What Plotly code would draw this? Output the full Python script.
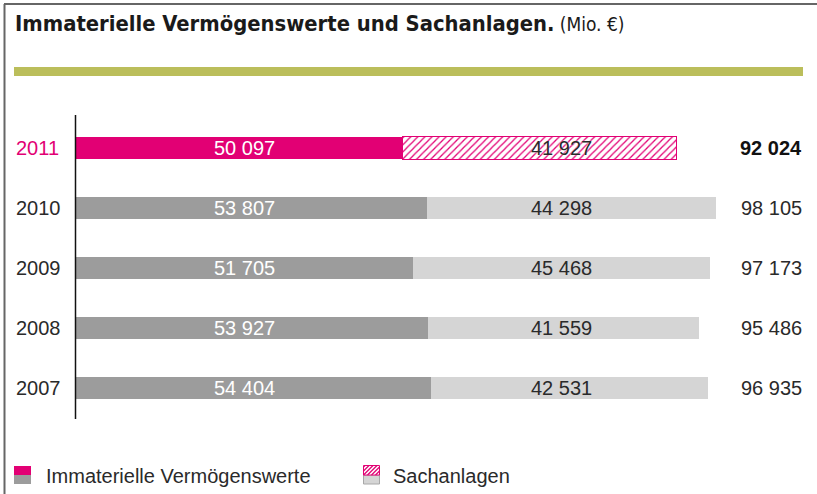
import plotly.graph_objects as go

years = ["2011", "2010", "2009", "2008", "2007"]
immaterielle = [50097, 53807, 51705, 53927, 54404]
sachanlagen = [41927, 44298, 45468, 41559, 42531]
totals = [92024, 98105, 97173, 95486, 96935]

MAG = "#E20074"
DARK = "#9C9C9C"
LIGHT = "#D5D5D5"
GREEN = "#BBBE5B"

W, H = 817, 494
L, R, T, B = 76, 101, 118, 76
PW, PH = W - L - R, H - T - B
XMAX = 98105


def px(x):
    return (x - L) / PW


def py(y):
    return (H - B - y) / PH


def fmt(v):
    return f"{v:,}".replace(",", " ")


fig = go.Figure()

n = len(years)
pos = [n - 1 - i for i in range(n)]  # 2011 at top
is11 = [y == "2011" for y in years]

fig.add_trace(go.Bar(
    y=pos, x=immaterielle, orientation="h", width=0.37,
    marker=dict(color=[MAG if f else DARK for f in is11], line=dict(width=0)),
    hoverinfo="skip", showlegend=False,
))
fig.add_trace(go.Bar(
    y=pos, x=sachanlagen, orientation="h", width=0.37,
    marker=dict(
        color=[MAG if f else LIGHT for f in is11],
        pattern=dict(
            shape=["/" if f else "" for f in is11],
            fillmode="replace",
            fgcolor=[MAG if f else LIGHT for f in is11],
            bgcolor=["white" if f else LIGHT for f in is11],
            size=5, solidity=0.25,
        ),
        line=dict(color=[MAG if f else LIGHT for f in is11],
                  width=[1 if f else 0 for f in is11]),
    ),
    hoverinfo="skip", showlegend=False,
))

ann = []
FONT = "Liberation Sans, Arial, sans-serif"
TXT = "#2a2a2a"
for yv, c, a, s, t, f in zip(pos, years, immaterielle, sachanlagen, totals, is11):
    ann.append(dict(x=px(14), y=yv, xref="paper", yref="y", text=c, showarrow=False,
                    xanchor="left", yanchor="middle",
                    font=dict(family=FONT, size=20, color=MAG if f else TXT)))
    ann.append(dict(x=px(244), y=yv, xref="paper", yref="y", text=fmt(a), showarrow=False,
                    xanchor="center", yanchor="middle",
                    font=dict(family=FONT, size=20, color="white")))
    ann.append(dict(x=px(561), y=yv, xref="paper", yref="y", text=fmt(s), showarrow=False,
                    xanchor="center", yanchor="middle",
                    font=dict(family=FONT, size=20, color=TXT,
                              shadow="0px 0px 2px white" if f else "none")))
    ann.append(dict(x=px(804), y=yv, xref="paper", yref="y",
                    text=f"<b>{fmt(t)}</b>" if f else fmt(t), showarrow=False,
                    xanchor="right", yanchor="middle",
                    font=dict(family=FONT, size=20, color="#111111" if f else TXT)))

# title
ann.append(dict(x=px(13), y=py(23), xref="paper", yref="paper",
                text="<b>Immaterielle Vermögenswerte und Sachanlagen.</b>"
                     "<span style='font-size:19px;font-weight:normal'> (Mio. €)</span>",
                showarrow=False, xanchor="left", yanchor="middle",
                font=dict(family="DejaVu Sans Condensed, sans-serif", size=21.8,
                          color="#1a1a1a")))
# legend texts
ann.append(dict(x=px(44), y=py(476), xref="paper", yref="paper", text="Immaterielle Vermögenswerte",
                showarrow=False, xanchor="left", yanchor="middle",
                font=dict(family=FONT, size=20, color=TXT)))
ann.append(dict(x=px(391), y=py(476), xref="paper", yref="paper", text="Sachanlagen",
                showarrow=False, xanchor="left", yanchor="middle",
                font=dict(family=FONT, size=20, color=TXT)))

shapes = []
# frame
shapes.append(dict(type="line", xref="paper", yref="paper", x0=px(4), x1=px(817), y0=py(4), y1=py(4),
                   line=dict(color="#666666", width=2)))
shapes.append(dict(type="line", xref="paper", yref="paper", x0=px(4.5), x1=px(4.5), y0=py(4), y1=py(494),
                   line=dict(color="#666666", width=2)))
# green band
shapes.append(dict(type="rect", xref="paper", yref="paper", x0=px(14), x1=px(803), y0=py(67), y1=py(76),
                   fillcolor=GREEN, line=dict(width=0)))
# axis line
shapes.append(dict(type="line", xref="paper", yref="paper", x0=px(75.5), x1=px(75.5), y0=py(115), y1=py(419),
                   line=dict(color="#111111", width=1.5)))
# legend square 1
shapes.append(dict(type="rect", xref="paper", yref="paper", x0=px(14), x1=px(31), y0=py(466), y1=py(475),
                   fillcolor=MAG, line=dict(width=0)))
shapes.append(dict(type="rect", xref="paper", yref="paper", x0=px(14), x1=px(31), y0=py(475), y1=py(484),
                   fillcolor=DARK, line=dict(width=0)))
# legend square 2
shapes.append(dict(type="rect", xref="paper", yref="paper", x0=px(363.5), x1=px(379.5), y0=py(475), y1=py(484),
                   fillcolor=LIGHT, line=dict(color="#A8A8A8", width=1)))
shapes.append(dict(type="rect", xref="paper", yref="paper", x0=px(363.5), x1=px(379.5), y0=py(465.5), y1=py(475),
                   fillcolor="white", line=dict(color=MAG, width=1)))
for k in range(-2, 5):
    xa = 363.5 + k * 4
    xb = xa + 9.5
    x0, y0, x1, y1 = xa, 475, xb, 465.5
    if x0 < 363.5:
        y0 = 475 - (363.5 - x0)
        x0 = 363.5
    if x1 > 379.5:
        y1 = 465.5 + (x1 - 379.5)
        x1 = 379.5
    if x1 > x0:
        shapes.append(dict(type="line", xref="paper", yref="paper", x0=px(x0), x1=px(x1),
                           y0=py(y0), y1=py(y1), line=dict(color=MAG, width=1.2)))

fig.update_layout(
    width=W, height=H,
    margin=dict(l=L, r=R, t=T, b=B, pad=0),
    paper_bgcolor="white", plot_bgcolor="white",
    barmode="stack",
    xaxis=dict(range=[0, XMAX], visible=False, fixedrange=True),
    yaxis=dict(range=[-0.5, n - 0.5], visible=False, fixedrange=True),
    annotations=ann, shapes=shapes,
    showlegend=False,
)

fig.write_html(
    "out.html",
    config={"displayModeBar": False},
    post_script="document.body.style.margin='0';document.body.style.overflow='hidden';",
)
